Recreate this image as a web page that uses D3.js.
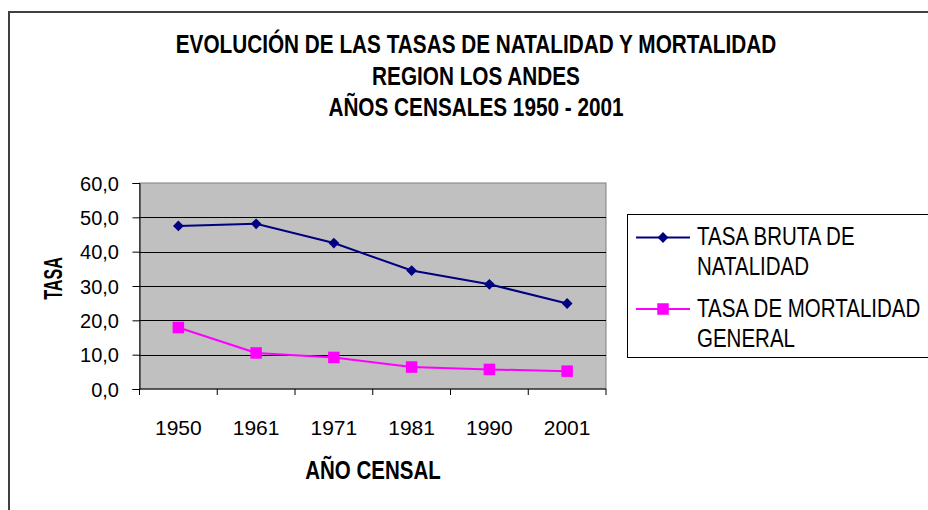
<!DOCTYPE html>
<html><head><meta charset="utf-8">
<script src="https://cdn.jsdelivr.net/npm/d3@7"></script>
<style>html,body{margin:0;padding:0;background:#fff;overflow:hidden}</style>
</head><body>
<svg id="c" width="928" height="510"></svg>
<script>
const years = ["1950","1961","1971","1981","1990","2001"];
const natalidad = [47.5, 48.1, 42.5, 34.5, 30.5, 24.9];
const mortalidad = [17.9, 10.5, 9.2, 6.4, 5.7, 5.2];
const yTicks = [0,10,20,30,40,50,60];
const titleLines = ["EVOLUCIÓN DE LAS TASAS DE NATALIDAD Y MORTALIDAD","REGION LOS ANDES","AÑOS CENSALES 1950 - 2001"];
const seriesNames = [["TASA BRUTA DE","NATALIDAD"],["TASA DE MORTALIDAD","GENERAL"]];

const font = "'Liberation Sans',Arial,sans-serif";

const svg = d3.select("#c");
function ntext(parent, x, y, str, opts){
  const o = Object.assign({size:25, sx:0.82, weight:"normal", anchor:"start", rot:0}, opts||{});
  return parent.append("text")
    .attr("transform",`translate(${x},${y})${o.rot?` rotate(${o.rot})`:""} scale(${o.sx},1)`)
    .attr("text-anchor",o.anchor).attr("font-family",font).attr("font-weight",o.weight)
    .attr("font-size",o.size).attr("fill","#000").text(str);
}

// outer border
svg.append("rect").attr("x",9).attr("y",12).attr("width",940).attr("height",520)
  .attr("fill","none").attr("stroke","#404040").attr("stroke-width",2);

const L=139.5, R=606, T=183, B=389;
const x = d3.scaleBand().domain(years).range([L,R]);
const y = d3.scaleLinear().domain([0,60]).range([B,T]);

svg.append("rect").attr("x",L).attr("y",T).attr("width",R-L).attr("height",B-T)
  .attr("fill","#C0C0C0").attr("stroke","#808080").attr("stroke-width",1);

// gridlines
svg.append("g").selectAll("line").data(yTicks.filter(d=>d>0&&d<60)).join("line")
  .attr("x1",L).attr("x2",R).attr("y1",d=>Math.round(y(d))+0.5).attr("y2",d=>Math.round(y(d))+0.5)
  .attr("stroke","#000").attr("stroke-width",1);

// y axis
const yAxis = svg.append("g").attr("transform",`translate(${L},0)`)
  .call(d3.axisLeft(y).tickValues(yTicks).tickSize(7).tickPadding(13.5).tickFormat(d=>d3.format(".1f")(d).replace(".",",")));
yAxis.selectAll("text").attr("font-family",font).attr("font-size",20).attr("fill","#000").attr("dy","0.35em");
yAxis.select(".domain").attr("stroke","#000");
yAxis.selectAll(".tick line").attr("stroke","#000");

// x axis
const xAxis = svg.append("g").attr("transform",`translate(0,${B})`);
xAxis.append("line").attr("x1",L).attr("x2",R).attr("y1",0).attr("y2",0).attr("stroke","#000");
const bounds = years.map(d=>x(d)).concat([R]);
xAxis.selectAll("line.t").data(bounds).join("line").attr("class","t")
  .attr("x1",d=>d).attr("x2",d=>d).attr("y1",0).attr("y2",6).attr("stroke","#000");
xAxis.selectAll("text").data(years).join("text")
  .attr("x",d=>x(d)+x.bandwidth()/2).attr("y",46).attr("text-anchor","middle")
  .attr("font-family",font).attr("font-size",21).attr("fill","#000").text(d=>d);

// axis titles
ntext(svg, 373, 479, "AÑO CENSAL", {weight:"bold", anchor:"middle", size:25, sx:0.82});
ntext(svg, 61.5, 278.5, "TASA", {weight:"bold", anchor:"middle", size:26, sx:0.62, rot:-90});

// title
titleLines.forEach((t,i)=>ntext(svg, 476, 53.3+i*31.2, t, {weight:"bold", anchor:"middle", size:25, sx:0.83}));

// lines
const cx = (d,i)=>x(years[i])+x.bandwidth()/2;
const line = d3.line().x(cx).y(d=>y(d));
svg.append("path").datum(natalidad).attr("d",line).attr("fill","none").attr("stroke","#000080").attr("stroke-width",2);
svg.append("path").datum(mortalidad).attr("d",line).attr("fill","none").attr("stroke","#FF00FF").attr("stroke-width",2);

const diamond = d3.symbol().type(d3.symbolDiamond2).size(74);
svg.append("g").selectAll("path").data(natalidad).join("path")
  .attr("transform",(d,i)=>`translate(${cx(d,i)},${y(d)})`)
  .attr("d",diamond).attr("fill","#000080");
svg.append("g").selectAll("rect").data(mortalidad).join("rect")
  .attr("x",(d,i)=>cx(d,i)-5.75).attr("y",d=>y(d)-5.75)
  .attr("width",11.5).attr("height",11.5).attr("fill","#FF00FF");

// legend
const lg = svg.append("g");
lg.append("rect").attr("x",627.5).attr("y",214.5).attr("width",340).attr("height",143)
  .attr("fill","#fff").attr("stroke","#000").attr("stroke-width",1);
const colors = ["#000080","#FF00FF"];
const symY = [237.5, 309];
seriesNames.forEach((names,i)=>{
  lg.append("line").attr("x1",636).attr("x2",690).attr("y1",symY[i]).attr("y2",symY[i])
    .attr("stroke",colors[i]).attr("stroke-width",2);
  if(i===0){
    lg.append("path").attr("transform",`translate(663,${symY[i]})`).attr("d",diamond).attr("fill",colors[i]);
  } else {
    lg.append("rect").attr("x",663-5.75).attr("y",symY[i]-5.75).attr("width",11.5).attr("height",11.5).attr("fill",colors[i]);
  }
  names.forEach((t,j)=>ntext(lg, 697, symY[i]+7.5+j*30, t, {size:25, sx:0.82}));
});
</script>
</body></html>
